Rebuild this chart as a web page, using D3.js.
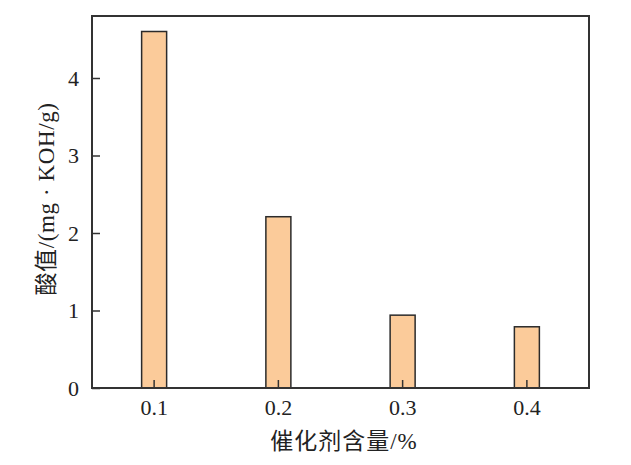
<!DOCTYPE html>
<html><head><meta charset="utf-8">
<script src="https://cdn.jsdelivr.net/npm/d3@7"></script>
<style>body{margin:0;background:#fff}</style>
</head><body>
<script>
const categories = ["0.1", "0.2", "0.3", "0.4"];
const values = [4.6, 2.21, 0.94, 0.79];
const yTicks = [0, 1, 2, 3, 4];
const xTitle = "催化剂含量/%";
const yTitle = "酸值/(mg · KOH/g)";

const W = 631, H = 465;
const m = {left: 92, right: 42, top: 16, bottom: 77};
const iw = W - m.left - m.right, ih = H - m.top - m.bottom;
const svg = d3.select("body").append("svg").attr("width", W).attr("height", H);
const g = svg.append("g").attr("transform", `translate(${m.left},${m.top})`);
const x = d3.scaleBand().domain(categories).range([0, iw]).padding(0);
const y = d3.scaleLinear().domain([0, 4.8]).range([ih, 0]);
const font = "'Liberation Serif','Times New Roman','Noto Sans CJK SC',serif";
const bw = 25;

g.selectAll("rect.bar").data(values).join("rect").attr("class","bar")
  .attr("x", (d,i) => x(categories[i]) + x.bandwidth()/2 - bw/2)
  .attr("width", bw)
  .attr("y", d => y(d)).attr("height", d => ih - y(d))
  .attr("fill", "#fbcb9a").attr("stroke", "#2b2b2b").attr("stroke-width", 1.5);

g.append("rect").attr("x",0).attr("y",0).attr("width",iw).attr("height",ih)
  .attr("fill","none").attr("stroke","#333").attr("stroke-width",2);

const yAxis = g.append("g").call(d3.axisLeft(y).tickValues(yTicks).tickSize(-8).tickPadding(13).tickFormat(d3.format("d")));
yAxis.select(".domain").remove();
yAxis.selectAll("line").attr("stroke","#333").attr("stroke-width",1.5);
yAxis.selectAll("text").attr("font-family",font).attr("font-size",22).attr("fill","#222");

const xAxis = g.append("g").attr("transform",`translate(0,${ih})`).call(d3.axisBottom(x).tickSize(-8).tickPadding(11));
xAxis.select(".domain").remove();
xAxis.selectAll("line").attr("stroke","#333").attr("stroke-width",1.5);
xAxis.selectAll("text").attr("font-family",font).attr("font-size",22).attr("fill","#222");

svg.append("text").attr("x", 344).attr("y", 449).attr("text-anchor","middle")
  .attr("font-family",font).attr("font-size",23).attr("letter-spacing",1).attr("fill","#222").text(xTitle);
svg.append("text").attr("transform","translate(54,199) rotate(-90)").attr("text-anchor","middle")
  .attr("font-family",font).attr("font-size",23).attr("letter-spacing",0.6).attr("fill","#222").text(yTitle);
</script>
</body></html>
